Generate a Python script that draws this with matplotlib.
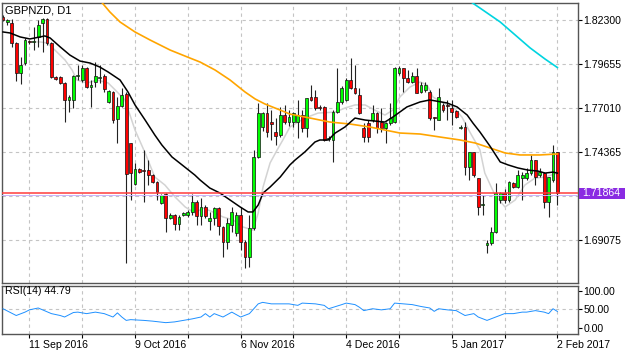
import matplotlib
matplotlib.use("Agg")
import matplotlib.pyplot as plt
from matplotlib.patches import Rectangle

plt.rcParams['font.family'] = ['Liberation Sans', 'DejaVu Sans']

# daily candles, GBPNZD (bar index 0 .. 126, last bar = 2 Feb 2017)
opens = [1.8248, 1.8218, 1.8212, 1.8092, 1.7911, 1.7971, 1.8104, 1.8098, 1.8128, 1.8212,
         1.8236, 1.8092, 1.7887, 1.7887, 1.7851, 1.7749, 1.7749, 1.7893, 1.7869, 1.7941,
         1.7827, 1.7857, 1.7881, 1.7893, 1.7737, 1.7797, 1.7634, 1.7713, 1.7785, 1.7490,
         1.7243, 1.7334, 1.7327, 1.7327, 1.7297, 1.7255, 1.7129, 1.7183, 1.7039, 1.7057,
         1.7003, 1.7057, 1.7057, 1.7075, 1.7135, 1.7051, 1.7105, 1.7021, 1.7039, 1.7099,
         1.6985, 1.6894, 1.6997, 1.6948, 1.7057, 1.6894, 1.6804, 1.6979, 1.7406, 1.7586,
         1.7670, 1.7616, 1.7556, 1.7538, 1.7658, 1.7616, 1.7616, 1.7616, 1.7658, 1.7580,
         1.7767, 1.7767, 1.7707, 1.7707, 1.7514, 1.7508, 1.7676, 1.7737, 1.7749, 1.7869,
         1.7821, 1.7779, 1.7580, 1.7610, 1.7628, 1.7670, 1.7616, 1.7580, 1.7610, 1.7616,
         1.7911, 1.7941, 1.7881, 1.7857, 1.7893, 1.7797, 1.7809, 1.7797, 1.7646, 1.7628,
         1.7719, 1.7719, 1.7701, 1.7683, 1.7580, 1.7586, 1.7346, 1.7436, 1.7279, 1.7117,
         1.6876, 1.6888, 1.6954, 1.7147, 1.7189, 1.7147, 1.7249, 1.7225, 1.7279, 1.7279,
         1.7309, 1.7388, 1.7297, 1.7309, 1.7135, 1.7267, 1.7436]
highs = [1.8260, 1.8236, 1.8236, 1.8098, 1.8007, 1.8122, 1.8110, 1.8188, 1.8230, 1.8242,
         1.8242, 1.8098, 1.7893, 1.7893, 1.7857, 1.7779, 1.7899, 1.7959, 1.7959, 1.7947,
         1.7869, 1.7977, 1.7959, 1.7905, 1.7809, 1.7803, 1.7767, 1.7821, 1.7797, 1.7490,
         1.7370, 1.7340, 1.7448, 1.7388, 1.7303, 1.7261, 1.7183, 1.7189, 1.7069, 1.7063,
         1.7057, 1.7075, 1.7087, 1.7183, 1.7147, 1.7159, 1.7117, 1.7075, 1.7105, 1.7105,
         1.6991, 1.7039, 1.7105, 1.7075, 1.7105, 1.6906, 1.7057, 1.7448, 1.7731, 1.7676,
         1.7731, 1.7688, 1.7640, 1.7707, 1.7719, 1.7688, 1.7676, 1.7749, 1.7688, 1.7761,
         1.7839, 1.7809, 1.7719, 1.7713, 1.7532, 1.7688, 1.7941, 1.7833, 1.7881, 1.8001,
         1.7959, 1.7821, 1.7610, 1.7628, 1.7719, 1.7676, 1.7701, 1.7616, 1.7731, 1.7947,
         1.7953, 1.7941, 1.7929, 1.7917, 1.7941, 1.7857, 1.7857, 1.7809, 1.7646, 1.7821,
         1.7731, 1.7749, 1.7749, 1.7688, 1.7598, 1.7616, 1.7436, 1.7436, 1.7279, 1.7177,
         1.6906, 1.6985, 1.7249, 1.7195, 1.7213, 1.7261, 1.7255, 1.7327, 1.7315, 1.7340,
         1.7418, 1.7388, 1.7340, 1.7315, 1.7285, 1.7478, 1.7436]
lows = [1.8224, 1.8200, 1.8068, 1.7863, 1.7845, 1.7959, 1.8086, 1.8049, 1.8068, 1.8037,
        1.8080, 1.7881, 1.7869, 1.7845, 1.7616, 1.7676, 1.7701, 1.7869, 1.7857, 1.7821,
        1.7707, 1.7827, 1.7851, 1.7797, 1.7731, 1.7610, 1.7490, 1.7707, 1.6768, 1.7147,
        1.7237, 1.7309, 1.7135, 1.7237, 1.7249, 1.7147, 1.7123, 1.6954, 1.7033, 1.6966,
        1.6966, 1.7051, 1.7045, 1.7057, 1.6997, 1.6997, 1.7039, 1.6966, 1.6997, 1.6936,
        1.6804, 1.6852, 1.6954, 1.6930, 1.6846, 1.6738, 1.6744, 1.6966, 1.7400, 1.7562,
        1.7526, 1.7508, 1.7478, 1.7526, 1.7604, 1.7592, 1.7586, 1.7520, 1.7556, 1.7526,
        1.7743, 1.7688, 1.7688, 1.7502, 1.7502, 1.7376, 1.7670, 1.7725, 1.7743, 1.7815,
        1.7785, 1.7664, 1.7496, 1.7496, 1.7616, 1.7550, 1.7556, 1.7490, 1.7598, 1.7610,
        1.7899, 1.7797, 1.7851, 1.7851, 1.7791, 1.7791, 1.7797, 1.7628, 1.7568, 1.7628,
        1.7676, 1.7628, 1.7598, 1.7640, 1.7574, 1.7297, 1.7267, 1.7285, 1.7057, 1.7057,
        1.6828, 1.6876, 1.6948, 1.7129, 1.7129, 1.7135, 1.7219, 1.7219, 1.7147, 1.7267,
        1.7297, 1.7237, 1.7285, 1.7099, 1.7045, 1.7255, 1.7117]
closes = [1.8230, 1.8230, 1.8092, 1.7911, 1.7959, 1.8110, 1.8098, 1.8104, 1.8200, 1.8236,
          1.8092, 1.7887, 1.7875, 1.7851, 1.7749, 1.7767, 1.7893, 1.7899, 1.7941, 1.7827,
          1.7839, 1.7893, 1.7887, 1.7815, 1.7803, 1.7628, 1.7713, 1.7779, 1.7303, 1.7309,
          1.7334, 1.7315, 1.7321, 1.7297, 1.7255, 1.7195, 1.7177, 1.7039, 1.7057, 1.7003,
          1.7045, 1.7069, 1.7075, 1.7135, 1.7051, 1.7105, 1.7051, 1.7039, 1.7099, 1.6991,
          1.6894, 1.7009, 1.7075, 1.7057, 1.6894, 1.6804, 1.6979, 1.7406, 1.7670, 1.7670,
          1.7556, 1.7604, 1.7532, 1.7658, 1.7616, 1.7646, 1.7670, 1.7658, 1.7580, 1.7761,
          1.7749, 1.7701, 1.7701, 1.7508, 1.7520, 1.7676, 1.7737, 1.7821, 1.7869, 1.7821,
          1.7791, 1.7670, 1.7526, 1.7526, 1.7670, 1.7580, 1.7580, 1.7610, 1.7640, 1.7941,
          1.7941, 1.7881, 1.7857, 1.7893, 1.7791, 1.7839, 1.7839, 1.7640, 1.7640, 1.7767,
          1.7688, 1.7713, 1.7676, 1.7646, 1.7586, 1.7346, 1.7436, 1.7297, 1.7105, 1.7123,
          1.6888, 1.6954, 1.7189, 1.7189, 1.7147, 1.7255, 1.7225, 1.7297, 1.7297, 1.7309,
          1.7388, 1.7285, 1.7315, 1.7135, 1.7285, 1.7436, 1.71864]

# moving averages (bar index, price)
black_idx = [0, 1.6, 3.9, 6.1, 8.4, 9.5, 10.7, 13, 15.2, 17.5, 19.8, 22, 23.9, 26.6, 28.4,
             30, 32.3, 34.5, 36.1, 38.4, 40.7, 43.6, 44.8, 47, 49.3, 51.6, 53.9, 55.7,
             56.8, 58, 59.1, 60.7, 63, 65.2, 66.4, 68.6, 70.9, 72, 73.9, 75.5, 77.7, 80,
             82.3, 84.5, 86.8, 88.6, 91.8, 94.8, 97, 100.9, 103.2, 105.5, 106.8, 108.4,
             110.7, 113, 114.8, 117, 119.3, 121.6, 123.2, 125, 126]
black_val = [1.8158, 1.8152, 1.8128, 1.8116, 1.8128, 1.8134, 1.8122, 1.8068, 1.8019, 1.7983,
             1.7971, 1.7947, 1.7917, 1.7869, 1.7797, 1.7719, 1.7628, 1.7538, 1.7478, 1.7406,
             1.7358, 1.7297, 1.7267, 1.7219, 1.7189, 1.7147, 1.7105, 1.7075, 1.7075, 1.7117,
             1.7189, 1.7225, 1.7285, 1.7358, 1.7388, 1.7436, 1.7496, 1.7508, 1.7508, 1.7550,
             1.7586, 1.7640, 1.7628, 1.7622, 1.7616, 1.7646, 1.7707, 1.7737, 1.7749, 1.7731,
             1.7707, 1.7658, 1.7610, 1.7556, 1.7470, 1.7376, 1.7358, 1.7340, 1.7327, 1.7321,
             1.7309, 1.7315, 1.7309]

orange_idx = [22, 24.3, 26.6, 30, 33.4, 38, 42.5, 44.8, 48.2, 51.6, 55, 57.3, 59.5, 63,
              65.2, 69.8, 74.3, 78.9, 83.4, 86.8, 90.2, 94.8, 99.3, 103.9, 107.3, 110.7,
              114.1, 117.5, 122, 126]
orange_val = [1.8350, 1.8278, 1.8218, 1.8158, 1.8110, 1.8049, 1.8001, 1.7977, 1.7929, 1.7869,
              1.7797, 1.7755, 1.7725, 1.7688, 1.7664, 1.7640, 1.7616, 1.7604, 1.7586, 1.7568,
              1.7550, 1.7544, 1.7526, 1.7508, 1.7490, 1.7460, 1.7430, 1.7418, 1.7418, 1.7424]

cyan_idx = [106.4, 108.4, 113, 116.4, 119.8, 123.2, 126]
cyan_val = [1.8338, 1.8302, 1.8218, 1.8140, 1.8062, 1.7995, 1.7944]

grey_idx = [6.1, 8.4, 10, 11.8, 14.1, 15.7, 16.8, 19.1, 21.4, 23.9, 25.5, 27.7, 30, 32.3,
            34.5, 36.8, 39.1, 41.4, 43.6, 45.5, 47.7, 50, 52.3, 54.5, 56.8, 58, 59.1, 60.7,
            62.3, 63.6, 65.2, 68.6, 71.6, 75.5, 77.7, 80, 82.3, 84.5, 86.8, 88.6, 90.2,
            92.5, 94.8, 96.4, 97.7, 100, 102.3, 104.3, 106.1, 108.4, 109.5, 111.8, 114.1,
            116.4, 118.6, 120.9, 123.2, 126]
grey_val = [1.8098, 1.8098, 1.8092, 1.8049, 1.7989, 1.7929, 1.7869, 1.7851, 1.7869, 1.7851,
            1.7809, 1.7749, 1.7568, 1.7430, 1.7285, 1.7237, 1.7165, 1.7105, 1.7069, 1.7099,
            1.7075, 1.7045, 1.7027, 1.6985, 1.6966, 1.7069, 1.7225, 1.7370, 1.7448, 1.7508,
            1.7586, 1.7640, 1.7670, 1.7676, 1.7700, 1.7719, 1.7719, 1.7688, 1.7658, 1.7688,
            1.7767, 1.7827, 1.7857, 1.7839, 1.7767, 1.7731, 1.7707, 1.7646, 1.7556, 1.7448,
            1.7309, 1.7177, 1.7105, 1.7147, 1.7237, 1.7279, 1.7285, 1.7309]

rsi_idx = [0, 3, 5, 6, 8, 9, 11, 13, 14, 16, 17, 19, 21, 23, 25, 26, 27, 28, 29, 32, 34, 37,
           39, 41, 43, 45, 46, 47, 48, 50, 52, 54, 56, 58, 59, 61, 63, 65, 67, 68, 71, 73,
           74, 77, 78, 80, 81, 82, 84, 86, 88, 89, 91, 93, 95, 97, 98, 99, 101, 103, 105,
           107, 108, 110, 112, 114, 116, 118, 119, 121, 123, 124, 125, 126]
rsi_val = [52, 34, 43, 49, 54, 49, 39, 34, 30, 42, 43, 39, 43, 39, 30, 41, 30, 21, 23, 21,
           19, 15, 17, 21, 25, 30, 39, 30, 39, 30, 43, 30, 39, 65, 69, 65, 65, 65, 61, 67,
           65, 61, 52, 63, 67, 63, 56, 47, 52, 49, 52, 67, 65, 63, 58, 54, 45, 52, 49, 47,
           34, 39, 30, 21, 30, 39, 39, 43, 43, 47, 43, 39, 52, 44.79]

price_ticks = [1.82300, 1.79655, 1.77010, 1.74365, 1.71720, 1.69075]
price_labels = ["1.82300", "1.79655", "1.77010", "1.74365", "", "1.69075"]
grid_idx = [6, 18, 30, 42, 54, 66, 78, 90, 102, 114, 126]
date_labels = ["11 Sep 2016", "", "9 Oct 2016", "", "6 Nov 2016", "", "4 Dec 2016", "",
               "5 Jan 2017", "", "2 Feb 2017"]
last_price = 1.71864

W, H = 625, 352
fig = plt.figure(figsize=(6.25, 3.52), dpi=100)
ax = fig.add_axes([2 / W, 1 - 283 / H, 576 / W, 280 / H])
axr = fig.add_axes([2 / W, 1 - 334 / H, 576 / W, 48 / H])

grid_kw = dict(color="#c4c4c4", lw=0.8, ls=(0, (3, 3)))
tick_fs = 7.6

# candles
n = len(closes)
idx = list(range(n))
body_bot = [min(o, c) for o, c in zip(opens, closes)]
body_h = [max(abs(c - o), 0.00002) for o, c in zip(opens, closes)]
body_col = ["#00ff00" if c >= o else "#ff0000" for o, c in zip(opens, closes)]

ax.plot(grey_idx, grey_val, color="#d3d3d3", lw=1.1, zorder=1.5)
ax.vlines(idx, lows, highs, color="#222222", lw=0.8, zorder=2)
ax.bar(idx, body_h, bottom=body_bot, width=0.66, color=body_col,
       edgecolor="#111111", linewidth=0.5, zorder=2.2)
ax.plot(orange_idx, orange_val, color="#ffa500", lw=1.2, zorder=3)
ax.plot(cyan_idx, cyan_val, color="#00d4e0", lw=1.2, zorder=3)
ax.plot(black_idx, black_val, color="black", lw=1.1, zorder=3)

# bid / ask lines
ax.axhline(last_price - 0.0009, color="#c9b3ff", lw=0.7, zorder=3.5)
ax.axhline(last_price, color="#ff3c3c", lw=1.1, zorder=3.6)

ax.set_xlim(-0.23, 130.68)
ax.set_ylim(1.66476, 1.83323)
ax.yaxis.tick_right()
ax.set_yticks(price_ticks)
ax.set_yticklabels(price_labels)
ax.set_xticks(grid_idx)
ax.tick_params(axis="x", length=0, labelbottom=False)
ax.tick_params(axis="y", length=3, width=0.8, pad=1, labelsize=tick_fs, colors="black")
ax.grid(True, **grid_kw)
ax.set_axisbelow(True)
for s in ax.spines.values():
    s.set_color("#555555")
    s.set_linewidth(1)

ax.text(5 / W, 1 - 10.5 / H, "GBPNZD, D1", transform=fig.transFigure,
        fontsize=8, va="center", ha="left", color="black")

# current price tag
fig.patches.append(Rectangle((579 / W, 1 - 199 / H), 46 / W, 11 / H,
                             transform=fig.transFigure, facecolor="#8a2be2",
                             edgecolor="none"))
fig.text(582 / W, 1 - 193.5 / H, "1.71864", color="white", fontsize=tick_fs,
         va="center", ha="left")

# RSI panel
axr.plot(rsi_idx, rsi_val, color="#1e90ff", lw=0.7, zorder=3)
axr.axhline(50, **grid_kw)
axr.set_xlim(-0.23, 130.68)
axr.set_ylim(-15.2, 112.5)
axr.yaxis.tick_right()
axr.set_yticks([100, 50, 0])
axr.set_yticklabels(["100.00", "50.00", "0.00"])
axr.set_xticks(grid_idx)
axr.set_xticklabels(date_labels, ha="left")
axr.tick_params(axis="y", length=3, width=0.8, pad=1, labelsize=tick_fs)
axr.tick_params(axis="x", length=3, width=0.8, pad=1, labelsize=tick_fs)
axr.grid(True, axis="x", **grid_kw)
for s in axr.spines.values():
    s.set_color("#555555")
    s.set_linewidth(1)
axr.text(5 / W, 1 - 290.5 / H, "RSI(14) 44.79", transform=fig.transFigure,
         fontsize=7.6, va="center", ha="left")

fig.savefig("out.png", dpi=100, facecolor="white")
